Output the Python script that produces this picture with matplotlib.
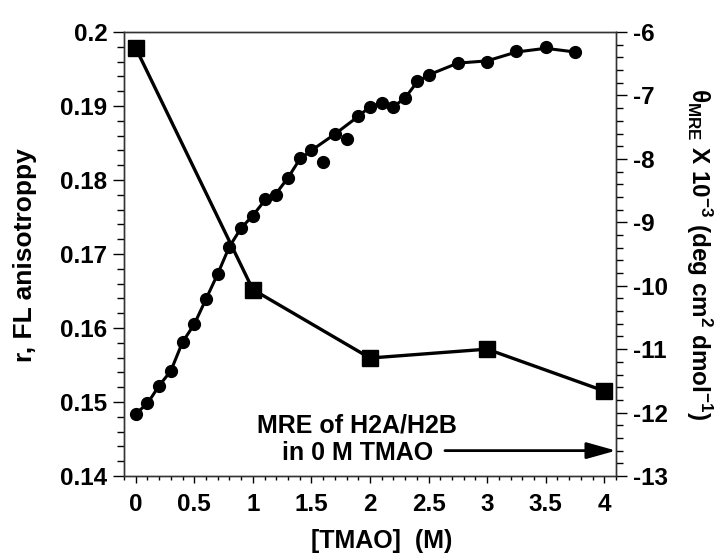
import matplotlib
matplotlib.use("Agg")
import matplotlib.pyplot as plt
from matplotlib.ticker import MultipleLocator, FuncFormatter

plt.rcParams['font.family'] = ['Liberation Sans', 'DejaVu Sans']
plt.rcParams['font.weight'] = 'bold'
plt.rcParams['axes.unicode_minus'] = False
plt.rcParams['mathtext.fontset'] = 'custom'
plt.rcParams['mathtext.rm'] = 'Liberation Sans:bold'
plt.rcParams['mathtext.it'] = 'Liberation Sans:bold'
plt.rcParams['mathtext.bf'] = 'Liberation Sans:bold'
plt.rcParams['mathtext.default'] = 'rm'

# fluorescence anisotropy (left axis)
tmao_r = [0, 0.1, 0.2, 0.3, 0.4, 0.5, 0.6, 0.7, 0.8, 0.9, 1.0, 1.1, 1.2, 1.3,
          1.4, 1.5, 1.6, 1.7, 1.8, 1.9, 2.0, 2.1, 2.2, 2.3, 2.4, 2.5, 2.75,
          3.0, 3.25, 3.5, 3.75]
aniso = [0.1484, 0.1498, 0.1522, 0.1542, 0.1581, 0.1605, 0.1639, 0.1673,
         0.1710, 0.1735, 0.1752, 0.1774, 0.1780, 0.1803, 0.1830, 0.1840,
         0.1824, 0.1862, 0.1856, 0.1886, 0.1899, 0.1904, 0.1898, 0.1911,
         0.1934, 0.1942, 0.1958, 0.1960, 0.1974, 0.1980, 0.1973]

# smoothed trace drawn through the anisotropy points
fit_x = [0, 0.1, 0.2, 0.3, 0.4, 0.5, 0.6, 0.7, 0.8, 0.9, 1.0, 1.1, 1.2, 1.3,
         1.4, 1.5, 1.7, 1.9, 2.0, 2.1, 2.2, 2.3, 2.4, 2.5, 2.75, 3.0, 3.25,
         3.5, 3.75]
fit_r = [0.1484, 0.1498, 0.1522, 0.1542, 0.1581, 0.1605, 0.1639, 0.1673,
         0.1710, 0.1735, 0.1752, 0.1772, 0.1782, 0.1803, 0.1828, 0.1840,
         0.1862, 0.1886, 0.1899, 0.1904, 0.1899, 0.1911, 0.1932, 0.1942,
         0.1958, 0.1961, 0.1973, 0.1978, 0.1973]

# mean residue ellipticity (right axis)
tmao_mre = [0, 1, 2, 3, 4]
mre = [-6.25, -10.06, -11.14, -11.0, -11.66]
mre_zero = -12.6

fig = plt.figure(figsize=(7.22, 5.54), dpi=100)
ax = fig.add_subplot(111)
fig.subplots_adjust(left=0.1717, right=0.8532, top=0.9422, bottom=0.1408)
ax2 = ax.twinx()

ax.plot(fit_x, fit_r, color='black', lw=2.2, zorder=3)
ax.plot(tmao_r, aniso, 'o', color='black', ms=8.5, zorder=4)
ax2.plot(tmao_mre, mre, color='black', lw=2.4, marker='s', ms=11, zorder=3)

ax.set_xlim(-0.1, 4.1)
ax.set_ylim(0.14, 0.2)
ax2.set_ylim(-13, -6)

fmt = FuncFormatter(lambda v, p: '%g' % round(v, 4))
ax.xaxis.set_major_locator(MultipleLocator(0.5))
ax.xaxis.set_minor_locator(MultipleLocator(0.1))
ax.yaxis.set_major_locator(MultipleLocator(0.01))
ax.yaxis.set_minor_locator(MultipleLocator(0.002))
ax2.yaxis.set_major_locator(MultipleLocator(1))
ax2.yaxis.set_minor_locator(MultipleLocator(0.2))
ax.xaxis.set_major_formatter(fmt)
ax.yaxis.set_major_formatter(fmt)
ax2.yaxis.set_major_formatter(fmt)

ax.tick_params(axis='x', which='major', direction='out', length=5, width=1,
               labelsize=17.5, pad=7, top=False)
ax.tick_params(axis='x', which='minor', direction='out', length=3, width=1, top=False)
ax.tick_params(axis='y', which='major', direction='out', length=8, width=1,
               labelsize=17.5, pad=4)
ax.tick_params(axis='y', which='minor', direction='out', length=5, width=1)
ax2.tick_params(axis='y', which='major', direction='out', length=8, width=1,
                labelsize=17.5, pad=4)
ax2.tick_params(axis='y', which='minor', direction='out', length=5, width=1)

for lbl in ax.get_xticklabels() + ax.get_yticklabels() + ax2.get_yticklabels():
    lbl.set_fontweight('bold')

for a in (ax, ax2):
    for s in a.spines.values():
        s.set_linewidth(1)
        s.set_color('#333333')

# arrow marking the 0 M TMAO reference value
ax2.annotate('', xy=(4.1, mre_zero), xytext=(2.64, mre_zero),
             arrowprops=dict(arrowstyle='-|>,head_length=1.0,head_width=0.28',
                             color='black', lw=2, mutation_scale=18,
                             shrinkA=0, shrinkB=0))
ax2.text(1.89, -12.42, 'MRE of H2A/H2B\nin 0 M TMAO', ha='center', va='center',
         multialignment='center', fontsize=18, fontweight='bold',
         linespacing=1.15)

fig.text(382 / 722, 1 - 541 / 554, '[TMAO]  (M)', ha='center', va='center',
         fontsize=18, fontweight='bold')
fig.text(25 / 722, 1 - 255 / 554, 'r, FL anisotroppy', ha='center', va='center',
         rotation=90, fontsize=19, fontweight='bold')
fig.text(699 / 722, 1 - 254 / 554,
         r'$\theta_{MRE}$ X 10$^{-3}$ (deg cm$^{2}$ dmol$^{-1}$)',
         ha='center', va='center', rotation=270, fontsize=17.5, fontweight='bold')

fig.savefig('out.png', dpi=100)
